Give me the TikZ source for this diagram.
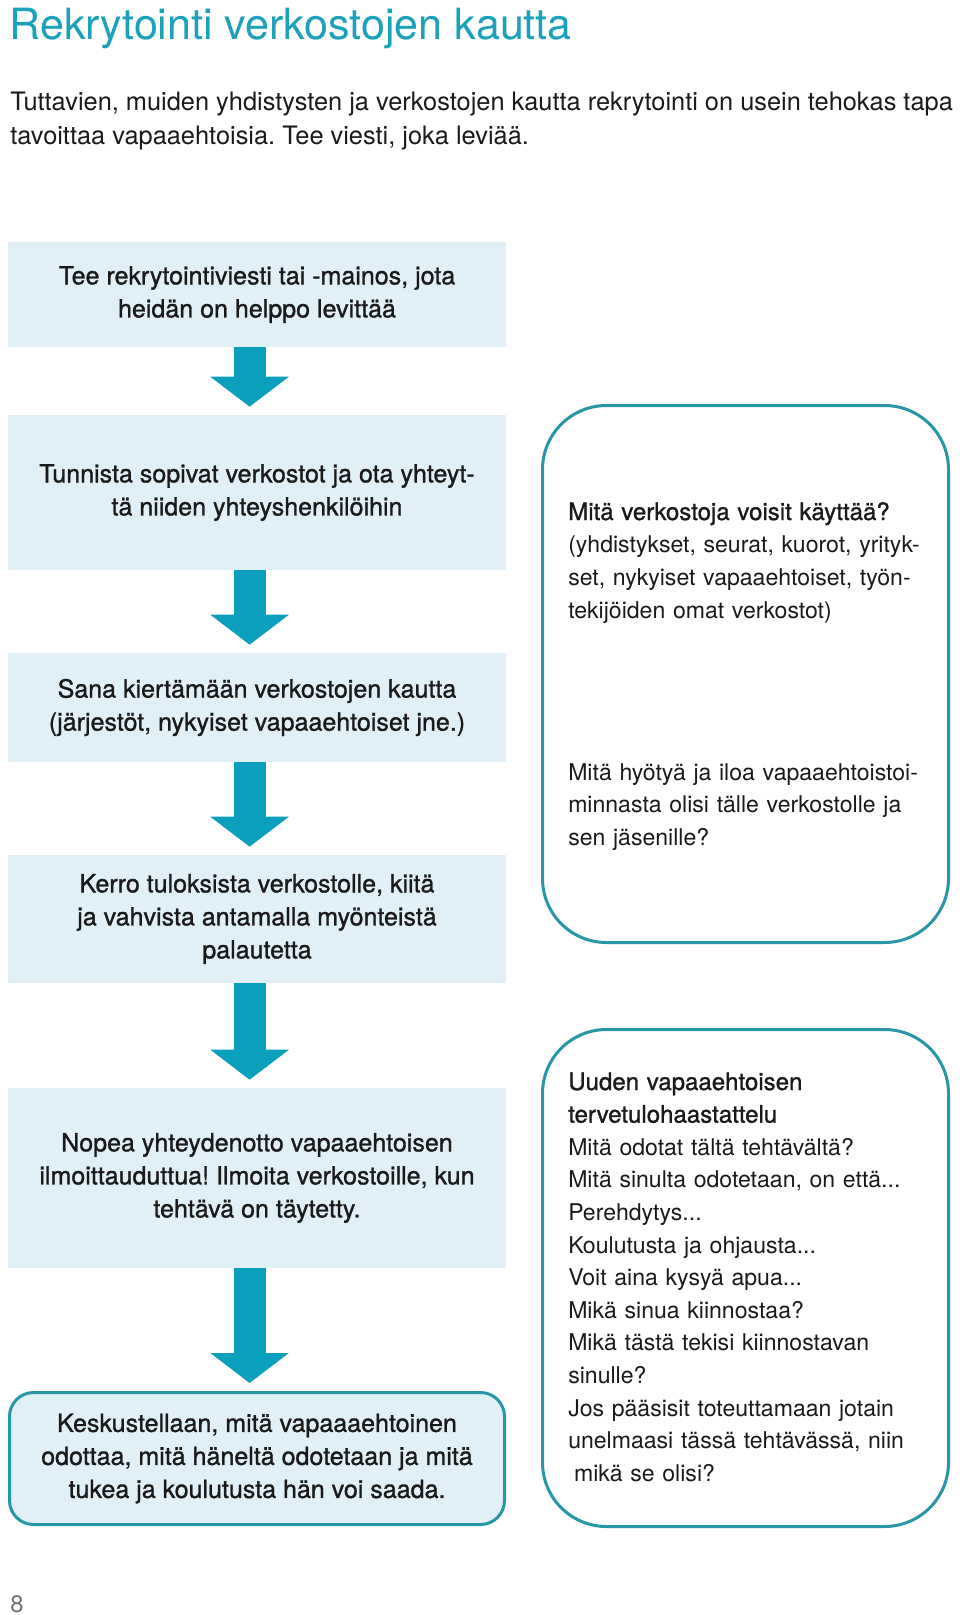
\documentclass[tikz,border=0pt]{standalone}
\usepackage{fontspec}
\setmainfont{TeX Gyre Heros}
\newfontfamily\medfont[FakeBold=1.1]{TeX Gyre Heros}
\usetikzlibrary{arrows.meta, positioning}
\definecolor{FlowTeal}{HTML}{0A9FBD}
\definecolor{FlowTitle}{HTML}{1BA1B9}
\definecolor{FlowBorder}{HTML}{2797A6}
\definecolor{FlowFill}{HTML}{E1F0F7}
\definecolor{FlowText}{HTML}{1A1A1A}

\begin{document}
\frenchspacing
\begin{tikzpicture}[
  font=\fontsize{16.4}{23.3}\selectfont,
  stepbox/.style={fill=FlowFill, text=FlowText, minimum width=12.45cm, align=center,
              inner sep=0pt, font=\medfont\fontsize{17.8}{23.5}\selectfont},
  lastbox/.style={stepbox, draw=FlowBorder, line width=0.075cm, rounded corners=0.6cm,
              minimum width=12.375cm},
  notebox/.style={draw=FlowBorder, line width=0.075cm, rounded corners=1.6cm,
              minimum width=10.15cm},
  notetext/.style={anchor=base west, text width=9.4cm, align=left, inner sep=0pt,
              text=FlowText},
  notehead/.style={font=\medfont\fontsize{17.1}{23.3}\selectfont},
  flow/.style={FlowTeal, line width=0.8cm, shorten >=0.2cm,
              -{Triangle[length=0.75cm, width=1.925cm]}}]
\fill[white] (0,0) rectangle (24,-40.375);
\useasboundingbox (0,0) rectangle (24,-40.375);
\node[anchor=base west, inner sep=0pt, text=FlowTitle, font=\fontsize{30.6}{36}\selectfont]
  (title) at (0.23,-0.975) {Rekrytointi verkostojen kautta};
\node[anchor=base west, inner sep=0pt, align=left, text=FlowText,
  font=\fontsize{18.05}{23.5}\selectfont] (intro) at (0.25,-3.6)
  {Tuttavien, muiden yhdistysten ja verkostojen kautta rekrytointi on usein tehokas tapa\\
   tavoittaa vapaaehtoisia. Tee viesti, joka leviää.};
\node[stepbox, minimum height=2.625cm] (b1) at (6.425,-7.3625)
  {Tee rekrytointiviesti tai -mainos, jota\\heidän on helppo levittää};
\node[stepbox, minimum height=3.875cm] (b2) at (6.425,-12.3125)
  {Tunnista sopivat verkostot ja ota yhteyt-\\tä niiden yhteyshenkilöihin};
\node[stepbox, minimum height=2.725cm] (b3) at (6.425,-17.6875)
  {Sana kiertämään verkostojen kautta\\(järjestöt, nykyiset vapaaehtoiset jne.)};
\node[stepbox, minimum height=3.2cm] (b4) at (6.425,-22.975)
  {Kerro tuloksista verkostolle, kiitä\\ja vahvista antamalla myönteistä\\palautetta};
\node[stepbox, minimum height=4.5cm] (b5) at (6.425,-29.45)
  {Nopea yhteydenotto vapaaehtoisen\\ilmoittauduttua! Ilmoita verkostoille, kun\\tehtävä on täytetty.};
\node[lastbox, minimum height=3.3cm] (b6) at (6.425,-36.4625)
  {Keskustellaan, mitä vapaaaehtoinen\\odottaa, mitä häneltä odotetaan ja mitä\\tukea ja koulutusta hän voi saada.};
\foreach \a/\b in {b1/b2, b2/b3, b3/b4, b4/b5, b5/b6}
  \draw[flow] ([xshift=-0.185cm]\a.south) -- ([xshift=-0.185cm]\b.north);
\node[notebox, minimum height=13.425cm] (r1) at (18.6375,-16.85) {};
\node[notetext] (r1a) at (14.2,-13.0)
  {{\medfont\fontsize{17.1}{23.3}\selectfont Mitä verkostoja voisit käyttää?}\\
   (yhdistykset, seurat, kuorot, yrityk-\\set, nykyiset vapaaehtoiset, työn-\\tekijöiden omat verkostot)};
\node[notetext] (r1b) at (14.2,-19.5)
  {Mitä hyötyä ja iloa vapaaehtoistoi-\\minnasta olisi tälle verkostolle ja\\sen jäsenille?};
\node[notebox, minimum height=12.425cm] (r2) at (18.6375,-31.95) {};
\node[notetext, font=\fontsize{16.4}{23.2}\selectfont] (r2a) at (14.2,-27.25)
  {{\medfont\fontsize{17.1}{23.2}\selectfont Uuden vapaaehtoisen\\tervetulohaastattelu}\\
   Mitä odotat tältä tehtävältä?\\Mitä sinulta odotetaan, on että...\\Perehdytys...\\
   Koulutusta ja ohjausta...\\Voit aina kysyä apua...\\Mikä sinua kiinnostaa?\\
   Mikä tästä tekisi kiinnostavan\\sinulle?\\Jos pääsisit toteuttamaan jotain\\
   unelmaasi tässä tehtävässä, niin\\\hspace*{0.25em}mikä se olisi?};
\node[anchor=base west, inner sep=0pt, text=black!55, font=\fontsize{17}{20}\selectfont]
  (page) at (0.25,-40.3) {8};
\end{tikzpicture}
\end{document}
